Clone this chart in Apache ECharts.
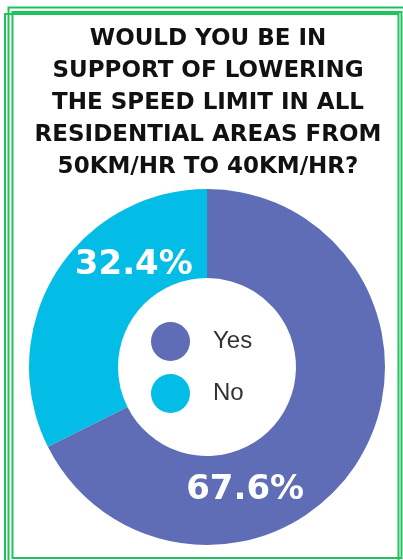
<!DOCTYPE html>
<html>
<head>
<meta charset="utf-8">
<script src="https://cdn.jsdelivr.net/npm/echarts@6/dist/echarts.min.js"></script>
<style>
  html, body { margin: 0; padding: 0; background: #fff; }
  #chart { width: 403px; height: 560px; }
</style>
</head>
<body>
<div id="chart"></div>
<script>
const categories = ["Yes", "No"];
const values = [67.6, 32.4];
const colors = ["#5e6db5", "#04bde6"];
const titleLines = [
  "WOULD YOU BE IN",
  "SUPPORT OF LOWERING",
  "THE SPEED LIMIT IN ALL",
  "RESIDENTIAL AREAS FROM",
  "50KM/HR TO 40KM/HR?",
];
// label nudges away from the ring midpoint
const labelShift = [
  [-78, 51],
  [43, -30],
];

const chart = echarts.init(document.getElementById("chart"));
const green = "#1fc35c";

chart.setOption({
  animation: false,
  title: {
    text: titleLines.join("\n"),
    left: 208,
    top: 23,
    padding: 0,
    textAlign: "center",
    textStyle: {
      fontFamily: "DejaVu Sans",
      fontWeight: "bold",
      fontSize: 23,
      lineHeight: 32,
      color: "#111",
    },
  },
  legend: {
    orient: "vertical",
    left: 146,
    top: 317,
    icon: "circle",
    itemWidth: 39,
    itemHeight: 39,
    itemGap: 13,
    data: categories,
    textStyle: {
      fontFamily: "Liberation Sans",
      fontSize: 24,
      color: "#333",
      padding: [0, 0, 0, 18],
    },
  },
  graphic: [
    { type: "rect", silent: true, shape: { x: 8.5, y: 7.5, width: 420, height: 600 }, style: { fill: "none", stroke: green, lineWidth: 2 } },
    { type: "rect", silent: true, shape: { x: 12.5, y: 12, width: 389, height: 546 }, style: { fill: "none", stroke: green, lineWidth: 2 } },
    { type: "rect", silent: true, shape: { x: 5, y: 14, width: 393.5, height: 600 }, style: { fill: "none", stroke: green, lineWidth: 2 } },
  ],
  series: [
    {
      type: "pie",
      center: [207, 367],
      radius: [89, 178],
      startAngle: 90,
      clockwise: true,
      silent: true,
      data: categories.map((c, i) => ({
        name: c,
        value: values[i],
        itemStyle: { color: colors[i] },
      })),
      label: {
        position: "inside",
        formatter: "{c}%",
        fontFamily: "DejaVu Sans",
        fontWeight: "bold",
        fontSize: 34,
        color: "#fff",
      },
      labelLine: { show: false },
      labelLayout: (p) => ({ dx: labelShift[p.dataIndex][0], dy: labelShift[p.dataIndex][1] }),
    },
  ],
});
</script>
</body>
</html>
